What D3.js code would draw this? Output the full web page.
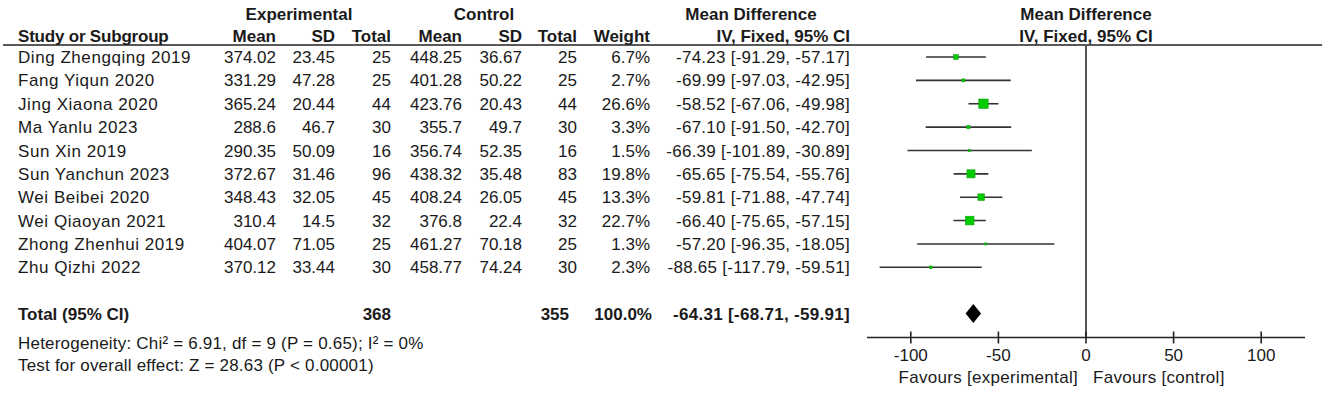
<!DOCTYPE html>
<html><head><meta charset="utf-8">
<script src="https://cdn.jsdelivr.net/npm/d3@7"></script>
<style>
body{margin:0;background:#fff;}
svg text{font-family:"Liberation Sans",Arial,sans-serif;fill:#1a1a1a;}
</style></head>
<body><svg id="c" width="1325" height="394"></svg>
<script>
const studies = ["Ding Zhengqing 2019","Fang Yiqun 2020","Jing Xiaona 2020","Ma Yanlu 2023","Sun Xin 2019","Sun Yanchun 2023","Wei Beibei 2020","Wei Qiaoyan 2021","Zhong Zhenhui 2019","Zhu Qizhi 2022"];
const expMean = ["374.02","331.29","365.24","288.6","290.35","372.67","348.43","310.4","404.07","370.12"];
const expSD = ["23.45","47.28","20.44","46.7","50.09","31.46","32.05","14.5","71.05","33.44"];
const expN = [25,25,44,30,16,96,45,32,25,30];
const ctlMean = ["448.25","401.28","423.76","355.7","356.74","438.32","408.24","376.8","461.27","458.77"];
const ctlSD = ["36.67","50.22","20.43","49.7","52.35","35.48","26.05","22.4","70.18","74.24"];
const ctlN = [25,25,44,30,16,83,45,32,25,30];
const weight = [6.7,2.7,26.6,3.3,1.5,19.8,13.3,22.7,1.3,2.3];
const md = [-74.23,-69.99,-58.52,-67.10,-66.39,-65.65,-59.81,-66.40,-57.20,-88.65];
const ciLo = [-91.29,-97.03,-67.06,-91.50,-101.89,-75.54,-71.88,-75.65,-96.35,-117.79];
const ciHi = [-57.17,-42.95,-49.98,-42.70,-30.89,-55.76,-47.74,-57.15,-18.05,-59.51];
const total = {label:"Total (95% CI)", expN:368, ctlN:355, weight:"100.0%", md:-64.31, lo:-68.71, hi:-59.91};
const axisTicks = [-100,-50,0,50,100];
const hetText = "Heterogeneity: Chi² = 6.91, df = 9 (P = 0.65); I² = 0%";
const effText = "Test for overall effect: Z = 28.63 (P < 0.00001)";
const favLeft = "Favours [experimental]", favRight = "Favours [control]";

const svg = d3.select("#c");
const FS = 17;

const y = d3.scalePoint().domain(studies).range([57, 267.3]);
const yTotal = 313.5, yAxis = 337.5;
const x = d3.scaleLinear().domain([-125,125]).range([867,1305]);

function txt(xp, yp, s, anchor, bold, ls){
  return svg.append("text").attr("x",xp).attr("y",yp).attr("dy","0.36em")
    .attr("text-anchor",anchor||"start").attr("font-size",FS)
    .attr("letter-spacing",ls||0)
    .attr("font-weight",bold?"bold":"normal").text(s);
}
const f2 = v => v.toFixed(2);

// headers
txt(299,14,"Experimental","middle",true);
txt(484,14,"Control","middle",true);
txt(751,14,"Mean Difference","middle",true);
txt(x(0),14,"Mean Difference","middle",true);
txt(18,35.5,"Study or Subgroup","start",true,-0.2);
const cols = [["Mean",276],["SD",335],["Total",391],["Mean",462],["SD",522],["Total",577],["Weight",650],["IV, Fixed, 95% CI",850]];
cols.forEach(c=>txt(c[1],35.5,c[0],"end",true));
txt(x(0),35.5,"IV, Fixed, 95% CI","middle",true);
svg.append("line").attr("x1",3).attr("x2",1322).attr("y1",45).attr("y2",45).attr("stroke","#222").attr("stroke-width",1.5);

// rows
studies.forEach((s,i)=>{
  const yy = y(s);
  txt(18,yy,s,"start",false,0.55);
  txt(276,yy,expMean[i],"end");
  txt(335,yy,expSD[i],"end");
  txt(391,yy,expN[i],"end");
  txt(462,yy,ctlMean[i],"end");
  txt(522,yy,ctlSD[i],"end");
  txt(577,yy,ctlN[i],"end");
  txt(650,yy,weight[i].toFixed(1)+"%","end");
  txt(850,yy,f2(md[i])+" ["+f2(ciLo[i])+", "+f2(ciHi[i])+"]","end",false,0.25);
});

// total row
txt(18,yTotal,total.label,"start",true);
txt(391,yTotal,total.expN,"end",true);
txt(569,yTotal,total.ctlN,"end",true);
txt(652,yTotal,total.weight,"end",true);
txt(850,yTotal,f2(total.md)+" ["+f2(total.lo)+", "+f2(total.hi)+"]","end",true,0.3);
txt(18,342.5,hetText,"start",false,0.2);
txt(18,365,effText,"start",false,0.2);

// zero line
svg.append("line").attr("x1",x(0)).attr("x2",x(0)).attr("y1",45).attr("y2",yAxis)
  .attr("stroke","#555").attr("stroke-width",2);

// CI lines + squares
const g = svg.append("g");
studies.forEach((s,i)=>{
  const yy = y(s);
  g.append("line").attr("x1",x(ciLo[i])).attr("x2",x(ciHi[i])).attr("y1",yy).attr("y2",yy)
    .attr("stroke","#333").attr("stroke-width",1.6);
});
const sz = d3.scaleSqrt().domain([0,26.6]).range([0,9.4]);
studies.forEach((s,i)=>{
  const yy = y(s), w = Math.max(sz(weight[i]),1.8);
  g.append("rect").attr("x",x(md[i])-w/2).attr("y",yy-w/2).attr("width",w).attr("height",w)
    .attr("fill","#00cc00").attr("stroke","#16a016").attr("stroke-width",0.6);
});

// diamond
const dh = 9.5;
svg.append("path").attr("d",`M${x(total.lo)},${yTotal} L${x(total.md)},${yTotal-dh} L${x(total.hi)},${yTotal} L${x(total.md)},${yTotal+dh} Z`).attr("fill","#000");

// axis
const ax = svg.append("g");
ax.append("line").attr("x1",x(-125)).attr("x2",x(125)).attr("y1",yAxis).attr("y2",yAxis).attr("stroke","#222").attr("stroke-width",1.6);
axisTicks.forEach(t=>{
  ax.append("line").attr("x1",x(t)).attr("x2",x(t)).attr("y1",yAxis-6).attr("y2",yAxis+6).attr("stroke","#222").attr("stroke-width",1.6);
  txt(x(t),355,String(t),"middle");
});
txt(x(0)-8,377,favLeft,"end",false,0.3);
txt(x(0)+7,377,favRight,"start",false,0.3);
</script></body></html>
